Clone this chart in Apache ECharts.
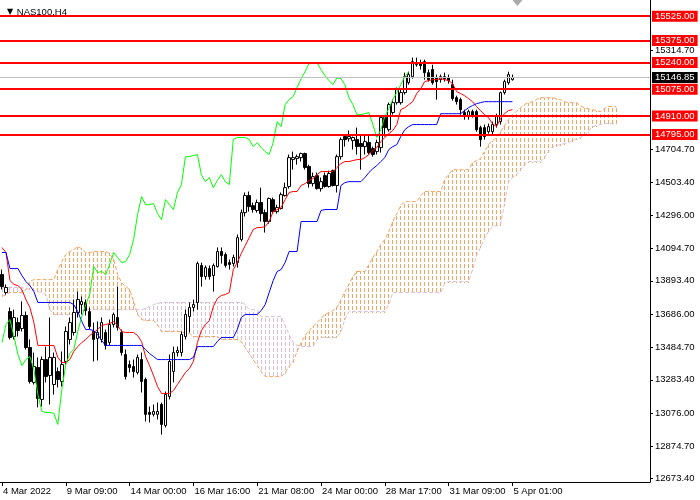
<!DOCTYPE html>
<html>
<head>
<meta charset="utf-8">
<script src="https://cdn.jsdelivr.net/npm/echarts@6/dist/echarts.min.js"></script>
<style>html,body{margin:0;padding:0;background:#fff}#c{width:700px;height:500px}</style>
</head>
<body>
<div id="c"></div>
<script>
// ---------- data (NAS100, H4) ----------
const barCount = 163; // visible bar slots incl. 26 future cloud bars + right shift

const tickIndex = [0, 16, 32, 48, 64, 80, 96, 112, 128];
const tickText = ["4 Mar 2022", "9 Mar 09:00", "14 Mar 00:00", "16 Mar 16:00", "21 Mar 08:00", "24 Mar 00:00", "28 Mar 17:00", "31 Mar 09:00", "5 Apr 01:00"];

const yTicks = [15314.70, 14704.70, 14503.40, 14296.00, 14094.70, 13893.40, 13686.00, 13484.70, 13283.40, 13076.00, 12874.70, 12673.40];

const redLevels = [15525, 15375, 15240, 15075, 14910, 14795];
const lastPrice = 15146.85;

const opens = [
13932,13821,13704,13550,13636,13599,13680,13482,13267,13359,
13162,13408,13310,13254,13334,13273,13396,13532,13575,13698,
13747,13760,13704,13581,13538,13532,13575,13513,13624,13667,
13575,13439,13377,13365,13328,13408,13285,13082,13070,13070,
13131,13001,13180,13334,13451,13451,13550,13673,13729,13760,
13988,13920,13969,13926,13981,14074,14055,14006,14000,14006,
14148,14314,14419,14357,14327,14376,14314,14259,14394,14320,
14339,14419,14475,14641,14647,14653,14678,14598,14493,14542,
14462,14542,14475,14573,14481,14659,14783,14770,14758,14764,
14740,14721,14746,14709,14690,14715,14900,14825,14931,14992,
14992,15054,15115,15152,15226,15239,15245,15177,15196,15146,
15134,15152,15146,15103,15023,15011,14931,14906,14937,14937,
14838,14838,14813,14813,14857,14875,15054,15115,15134];

const closes = [
13858,13852,13544,13667,13587,13680,13482,13273,13365,13168,
13408,13303,13421,13421,13285,13377,13581,13636,13698,13778,
13766,13710,13612,13532,13575,13636,13495,13624,13686,13606,
13451,13303,13359,13334,13421,13273,13070,13070,13088,13088,
13008,13193,13396,13451,13464,13562,13686,13729,13747,14000,
13920,13975,13920,13988,14074,14049,13988,13994,14037,14160,
14314,14419,14351,14333,14376,14308,14259,14401,14320,14345,
14425,14468,14653,14653,14659,14678,14592,14493,14536,14462,
14505,14475,14555,14481,14659,14764,14764,14783,14777,14721,
14721,14752,14684,14672,14746,14900,14838,14980,14992,15072,
15054,15152,15165,15245,15239,15220,15177,15134,15115,15122,
15152,15140,15128,15017,14998,14949,14906,14937,14906,14825,
14764,14783,14844,14857,14906,15054,15122,15165,15146.85];

const lows = [
13840,13809,13532,13532,13550,13581,13470,13260,13254,13113,
13119,13267,13131,13193,13236,13242,13377,13501,13556,13667,
13686,13680,13593,13396,13402,13513,13470,13495,13606,13587,
13433,13285,13328,13297,13316,13205,13026,13020,13057,13039,
12946,12989,13162,13267,13427,13427,13532,13575,13704,13716,
13858,13901,13901,13827,13975,14000,13975,13963,13981,13975,
14136,14290,14320,14314,14314,14259,14191,14246,14314,14308,
14333,14413,14462,14579,14610,14629,14579,14468,14475,14456,
14444,14468,14468,14475,14438,14641,14721,14752,14703,14672,
14579,14672,14672,14659,14672,14684,14783,14813,14918,14980,
14980,15042,15103,15140,15214,15196,15134,15122,15103,15011,
15115,15122,15109,15005,14980,14918,14887,14887,14900,14813,
14721,14764,14801,14795,14838,14857,15042,15103,15128];

const highs = [
13963,13871,13729,13716,13667,13766,13704,13532,13451,13421,
13427,13488,13667,13451,13359,13458,13612,13667,13778,13827,
13797,13778,13729,13636,13643,13667,13593,13655,13698,13858,
13593,13470,13402,13408,13439,13451,13297,13119,13131,13143,
13143,13211,13439,13488,13488,13581,13716,13760,13778,14012,
14006,13988,13988,14000,14099,14099,14068,14025,14055,14179,
14333,14438,14444,14376,14394,14468,14333,14407,14407,14363,
14438,14499,14672,14690,14672,14684,14684,14610,14561,14561,
14530,14561,14573,14579,14672,14777,14795,14820,14783,14838,
14795,14795,14795,14721,14764,14912,14912,14992,15011,15085,
15072,15177,15183,15270,15270,15257,15257,15196,15226,15165,
15165,15177,15165,15134,15035,15023,14949,14949,14949,14949,
14850,14857,14863,14875,14924,15060,15134,15183,15165];

const tenkan = [
14099,14068,13895,13871,13864,13840,13778,13729,13636,13495,
13495,13495,13495,13495,13421,13390,13390,13408,13458,13488,
13513,13532,13556,13575,13593,13618,13624,13630,13643,13618,
13581,13575,13575,13575,13556,13519,13427,13371,13310,13242,
13199,13199,13199,13217,13254,13291,13328,13353,13396,13513,
13587,13624,13649,13735,13784,13803,13809,13821,13963,14006,
14062,14111,14160,14210,14222,14222,14228,14259,14320,14333,
14345,14394,14438,14444,14444,14481,14493,14512,14524,14548,
14567,14567,14567,14567,14592,14616,14629,14629,14635,14641,
14641,14653,14672,14696,14715,14752,14777,14801,14820,14857,
14949,14961,14980,14998,15048,15078,15122,15128,15134,15134,
15140,15134,15128,15109,15060,15048,15035,15017,14998,14968,
14943,14918,14900,14863,14844,14893,14924,14943,14949];

const kijun = [
14068,14068,13969,13969,13969,13926,13889,13864,13827,13760,
13760,13760,13760,13760,13760,13760,13760,13760,13747,13704,
13643,13593,13593,13587,13562,13526,13495,13495,13495,13495,
13495,13495,13495,13495,13495,13495,13470,13445,13427,13408,
13408,13408,13408,13408,13408,13408,13408,13408,13421,13488,
13488,13488,13488,13488,13519,13544,13544,13544,13544,13593,
13667,13686,13686,13686,13686,13710,13747,13821,13895,13951,
13963,14006,14074,14074,14074,14259,14259,14259,14259,14259,
14327,14333,14333,14333,14333,14481,14499,14505,14505,14505,
14505,14530,14561,14585,14604,14629,14653,14703,14721,14733,
14783,14825,14844,14857,14857,14857,14857,14857,14857,14857,
14924,14924,14924,14924,14924,14924,14943,14961,14974,14986,
14992,14998,14998,14998,14998,14998,14998,14998,14998];

const chikou = [
13513,13624,13655,13550,13439,13371,13408,13427,13347,13193,
13088,13082,13082,13076,13008,13223,13377,13445,13470,13581,
13673,13747,13809,13981,13945,13951,13932,13994,14068,14037,
14006,14012,14055,14148,14302,14413,14363,14363,14370,14308,
14271,14394,14363,14333,14438,14487,14659,14659,14666,14672,
14548,14505,14530,14468,14512,14548,14505,14487,14764,14777,
14777,14777,14764,14721,14746,14715,14690,14672,14746,14875,
14844,14980,15011,15029,15085,15140,15183,15233,15239,15239,
15196,15159,15128,15103,15146,15140,15103,15023,14980,14918,
14918,14924,14931,14857,14777,14825,14906,14955,15011,15054,
15103,15152,15183];

const senkouA = [
13797,13809,13821,13821,13821,13821,13840,13889,13901,13901,
13901,13901,13901,13901,13963,14012,14055,14074,14086,14105,
14092,14068,14068,14074,14074,14074,14074,14062,14025,13932,
13883,13858,13840,13766,13686,13655,13649,13649,13649,13624,
13581,13581,13581,13581,13581,13581,13569,13569,13550,13550,
13550,13550,13550,13550,13550,13532,13532,13532,13532,13532,
13519,13482,13445,13408,13371,13334,13303,13303,13303,13303,
13303,13328,13365,13396,13458,13513,13556,13587,13612,13636,
13661,13686,13698,13710,13729,13778,13827,13871,13920,13951,
13951,13951,13994,14037,14074,14117,14148,14197,14259,14308,
14357,14382,14382,14382,14382,14419,14444,14444,14444,14444,
14444,14518,14548,14579,14579,14579,14579,14579,14622,14635,
14647,14690,14733,14758,14777,14813,14850,14887,14918,14937,
14961,14980,14992,14998,15011,15023,15023,15023,15023,15017,
15011,14998,14992,14992,14992,14974,14961,14955,14949,14943,
14937,14955,14968,14968,14968];

const senkouB = [
13852,13852,13852,13852,13852,13852,13846,13840,13834,13827,
13821,13809,13716,13686,13686,13686,13686,13686,13686,13686,
13710,13716,13716,13716,13716,13716,13716,13716,13716,13716,
13716,13716,13716,13716,13716,13716,13723,13735,13747,13754,
13760,13760,13760,13760,13760,13760,13760,13760,13760,13760,
13760,13760,13760,13760,13760,13760,13760,13760,13760,13760,
13760,13747,13716,13716,13716,13673,13673,13673,13673,13673,
13673,13618,13562,13513,13495,13488,13488,13488,13488,13532,
13544,13544,13544,13544,13544,13581,13655,13704,13704,13704,
13704,13704,13704,13704,13704,13704,13704,13747,13821,13821,
13821,13821,13821,13821,13821,13821,13821,13821,13821,13821,
13821,13877,13889,13889,13889,13889,13889,13889,13963,14049,
14099,14154,14197,14228,14234,14240,14363,14505,14530,14548,
14579,14610,14629,14629,14629,14629,14653,14690,14721,14727,
14733,14740,14746,14758,14770,14777,14789,14813,14844,14850,
14857,14863,14863,14863,14863];

// ---------- chart ----------
const FONT = 'Liberation Sans';
const ORANGE = '#F4A460';
const THISTLE = '#D8BFD8';
const Y_MIN = 12653, Y_MAX = 15625;

const cats = Array.from({length: barCount}, (_, i) => String(i));
const candles = opens.map((o, i) => [o, closes[i], lows[i], highs[i]]);
const cloud = senkouA.map((a, i) => [i, a, senkouB[i]]);

const levelLines = [{
  yAxis: lastPrice,
  lineStyle: {color: '#c0c0c0', width: 1, type: 'solid'},
  label: {backgroundColor: '#000000', color: '#ffffff'}
}].concat(redLevels.map(v => ({
  yAxis: v,
  lineStyle: {color: '#ff0000', width: 2, type: 'solid'},
  label: {backgroundColor: '#ff0000', color: '#ffffff'}
})));

const chart = echarts.init(document.getElementById('c'), null, {renderer: 'canvas'});
chart.setOption({
  animation: false,
  backgroundColor: '#ffffff',
  title: {
    text: '{t|▼} NAS100,H4',
    left: 2, top: 2,
    textStyle: {
      fontFamily: FONT, fontSize: 9.5, fontWeight: 'normal', color: '#000',
      rich: {t: {fontSize: 8, color: '#000', fontFamily: 'DejaVu Sans', padding: [0, 1, 0, 0]}}
    }
  },
  grid: {left: -2, right: 50, top: 0, bottom: 18},
  xAxis: {
    type: 'category',
    data: cats,
    boundaryGap: true,
    axisLine: {show: true, lineStyle: {color: '#000', width: 1}},
    axisTick: {show: true, alignWithLabel: true, length: 4,
      interval: (i) => tickIndex.includes(i), lineStyle: {color: '#000'}},
    axisLabel: {
      interval: (i) => tickIndex.includes(i),
      formatter: (v, i) => { const k = tickIndex.indexOf(Number(v)); return k >= 0 ? tickText[k] : ''; },
      align: 'left', margin: 4, padding: [0, 0, 0, 1],
      fontFamily: FONT, fontSize: 9.5, color: '#000'
    },
    splitLine: {show: false}
  },
  yAxis: {
    type: 'value',
    position: 'right',
    min: Y_MIN, max: Y_MAX,
    axisLine: {show: true, lineStyle: {color: '#000', width: 1}},
    axisTick: {show: true, customValues: yTicks, length: 3, lineStyle: {color: '#000'}},
    axisLabel: {customValues: yTicks, formatter: v => Number(v).toFixed(2),
      margin: 5, fontFamily: FONT, fontSize: 9.5, color: '#000'},
    splitLine: {show: false}
  },
  series: [
    {
      name: 'cloud', type: 'custom', z: 1, silent: true,
      data: cloud,
      encode: {x: 0, y: [1, 2]},
      renderItem: function (params, api) {
        const i = api.value(0), a = api.value(1), b = api.value(2);
        const p1 = api.coord([i, a]);
        const p2 = api.coord([i, b]);
        const x = Math.floor(p1[0] + 0.01);
        const top = Math.round(Math.min(p1[1], p2[1]));
        const bot = Math.round(Math.max(p1[1], p2[1]));
        const color = a >= b ? ORANGE : THISTLE;
        const children = [];
        let runStart = -1;
        for (let y = top; y <= bot; y++) {
          const on = (y % 6) < 4;
          if (on && runStart < 0) runStart = y;
          if ((!on || y === bot) && runStart >= 0) {
            const end = on ? y + 1 : y;
            children.push({type: 'rect', shape: {x: x, y: runStart, width: 1, height: end - runStart},
              style: {fill: color, stroke: null, lineWidth: 0}});
            runStart = -1;
          }
        }
        return {type: 'group', children: children};
      }
    },
    {
      name: 'Senkou A', type: 'line', z: 2, silent: true, data: senkouA,
      symbol: 'none', lineStyle: {color: ORANGE, width: 1, type: [4, 2]}
    },
    {
      name: 'Senkou B', type: 'line', z: 2, silent: true, data: senkouB,
      symbol: 'none', lineStyle: {color: THISTLE, width: 1, type: [4, 2]}
    },
    {
      name: 'NAS100', type: 'candlestick', z: 3, silent: true, data: candles,
      barWidth: 3,
      itemStyle: {color: '#ffffff', color0: '#000000', borderColor: '#000000', borderColor0: '#000000', borderWidth: 1}
    },
    {
      name: 'Tenkan', type: 'line', z: 4, silent: true, data: tenkan,
      symbol: 'none', lineStyle: {color: '#ff0000', width: 1}
    },
    {
      name: 'Kijun', type: 'line', z: 4, silent: true, data: kijun,
      symbol: 'none', lineStyle: {color: '#0000ff', width: 1}
    },
    {
      name: 'Chikou', type: 'line', z: 4, silent: true, data: chikou,
      symbol: 'none', lineStyle: {color: '#00ff00', width: 1}
    },
    {
      name: 'levels', type: 'line', z: 6, silent: true, data: [],
      markLine: {
        silent: true, symbol: ['none', 'none'], animation: false,
        label: {
          show: true, position: 'end', distance: 2,
          formatter: p => Number(p.value).toFixed(2),
          fontFamily: FONT, fontSize: 9.5, lineHeight: 10,
          padding: [1, 3, 0, 3]
        },
        emphasis: {disabled: true},
        data: levelLines
      },
      markPoint: {
        silent: true,
        data: [{coord: [129, Y_MAX], symbol: 'triangle', symbolRotate: 180,
          symbolSize: [10, 6], symbolOffset: [1, 3], itemStyle: {color: '#a9a9a9'}, label: {show: false}}]
      }
    }
  ]
});
</script>
</body>
</html>
